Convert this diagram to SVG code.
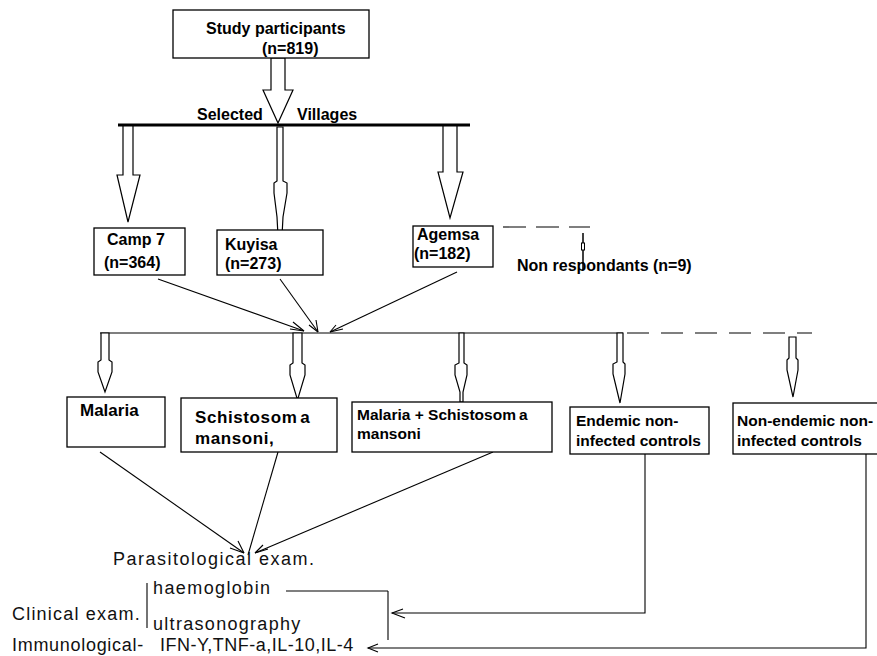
<svg xmlns="http://www.w3.org/2000/svg" width="877" height="656" viewBox="0 0 877 656">
<style>
.box{fill:#fff;stroke:#000;stroke-width:1.3}
.blk{fill:#fff;stroke:#000;stroke-width:1.2;stroke-linejoin:miter}
.ln{fill:none;stroke:#000;stroke-width:1.1}
.b{font-family:"Liberation Sans",Arial,sans-serif;font-weight:bold;font-size:16px;fill:#000}
.r{font-family:"Liberation Sans",Arial,sans-serif;font-size:18px;letter-spacing:1px;fill:#111}
</style>
<rect width="877" height="656" fill="#fff"/>

<g id="connectors">
  <!-- top block arrow -->
  <polygon class="blk" points="271,58 285,58 285,90 293,90 278,123 263,90 271,90"/>
  <!-- villages bar -->
  <line x1="118" y1="125" x2="470" y2="125" stroke="#000" stroke-width="3"/>
  <!-- village arrows -->
  <polygon class="blk" points="123,126 133,126 133,175 140,175 128,222 117,175 123,175"/>
  <polygon class="blk" points="277,127 283,127 283,181 287,183 287,193 283,217 282,236 278,236 277,217 274,193 274,183 277,181"/>
  <polygon class="blk" points="443,126 457,126 457,172 463,172 450,218 438,172 443,172"/>
  <!-- non respondants -->
  <line class="ln" x1="503" y1="227" x2="590" y2="227" stroke-dasharray="23,10"/>
  <line x1="583" y1="233" x2="583" y2="270" stroke="#000" stroke-width="1.5"/>
  <rect x="581.5" y="243" width="3" height="7" fill="#fff" stroke="#000" stroke-width="1"/>
  <!-- villages converge -->
  <line class="ln" x1="158" y1="279" x2="304" y2="331"/>
  <path class="ln" d="M290,329 L304,331 M293,322 L304,331"/>
  <line class="ln" x1="280" y1="279" x2="318" y2="332"/>
  <path class="ln" d="M309,325 L318,332 M316,320 L318,332"/>
  <line class="ln" x1="457" y1="272" x2="330" y2="332"/>
  <path class="ln" d="M343,329 L330,332 M336,325 L330,332"/>
  <!-- level 2 line -->
  <line class="ln" x1="100" y1="333" x2="623" y2="333"/>
  <line class="ln" x1="627" y1="333" x2="812" y2="333" stroke-dasharray="22,12"/>
  <!-- level 2 arrows -->
  <polygon class="blk" points="101,333 109,333 109,360 112,362 112,372 105,392 98,372 98,362 101,360"/>
  <polygon class="blk" points="293,333 302,333 302,363 305,365 305,375 297.5,400 290,375 290,365 293,363"/>
  <polygon class="blk" points="459,333 464,333 464,363 467,365 467,375 463,392 463,402 460,402 460,392 455,375 455,365 459,363"/>
  <polygon class="blk" points="617,333 623,333 623,362 625,364 625,374 620,403 613,374 613,364 617,362"/>
  <polygon class="blk" points="789,337 796,337 796,358 798,360 798,370 793,397 787,370 787,360 789,358"/>
  <!-- level 2 converge to parasitological exam -->
  <line class="ln" x1="100" y1="452" x2="244" y2="553"/>
  <path class="ln" d="M230,548 L244,553 M238,541 L244,553"/>
  <line class="ln" x1="278" y1="452" x2="248" y2="555"/>
  <line class="ln" x1="493" y1="452" x2="255" y2="553"/>
  <path class="ln" d="M268,549 L255,553 M263,545 L255,553"/>
  <!-- clinical bracket lines -->
  <line class="ln" x1="147" y1="583" x2="147" y2="628"/>
  <line class="ln" x1="286" y1="591" x2="388" y2="591"/>
  <line class="ln" x1="388" y1="591" x2="388" y2="640"/>
  <!-- endemic connector -->
  <polyline class="ln" points="645,454 645,613 392,613"/>
  <path class="ln" d="M403,609 L392,613 L405,618"/>
  <!-- non-endemic connector -->
  <polyline class="ln" points="866,454 866,648 368,648"/>
  <path class="ln" d="M378,644 L368,648 L378,652"/>
</g>

<g id="study">
  <rect class="box" x="173" y="10" width="196" height="48"/>
  <text class="b" x="206" y="34">Study participants</text>
  <text class="b" x="262" y="54">(n=819)</text>
</g>
<g id="selected-villages">
  <text class="b" x="197" y="120">Selected</text>
  <text class="b" x="297" y="120">Villages</text>
</g>
<g id="camp7">
  <rect class="box" x="94" y="228" width="91" height="47"/>
  <text class="b" x="107" y="245">Camp 7</text>
  <text class="b" x="104" y="268">(n=364)</text>
</g>
<g id="kuyisa">
  <rect class="box" x="217" y="230" width="106" height="45"/>
  <text class="b" x="225" y="250">Kuyisa</text>
  <text class="b" x="225" y="269">(n=273)</text>
</g>
<g id="agemsa">
  <rect class="box" x="413" y="226" width="80" height="41"/>
  <text class="b" x="417" y="240">Agemsa</text>
  <text class="b" x="414" y="259">(n=182)</text>
</g>
<g id="non-respondants">
  <text class="b" x="517" y="271">Non respondants (n=9)</text>
</g>
<g id="malaria">
  <rect class="box" x="67" y="397" width="98" height="50"/>
  <text class="b" x="80" y="416" style="font-size:17px">Malaria</text>
</g>
<g id="schisto">
  <rect class="box" x="181" y="398" width="156" height="54"/>
  <text class="b" x="195" y="423" style="font-size:17px;letter-spacing:0.6px">Schistosom<tspan dx="3">a</tspan></text>
  <text class="b" x="195" y="444" style="font-size:17px;letter-spacing:0.6px">mansoni,</text>
</g>
<g id="mal-schisto">
  <rect class="box" x="352" y="402" width="200" height="50"/>
  <text class="b" x="357" y="420" style="font-size:15.5px">Malaria + Schistosom<tspan dx="3">a</tspan></text>
  <text class="b" x="357" y="439" style="font-size:15.5px">mansoni</text>
</g>
<g id="endemic">
  <rect class="box" x="570" y="407" width="139" height="47"/>
  <text class="b" x="576" y="426" style="font-size:15.5px">Endemic non-</text>
  <text class="b" x="576" y="446" style="font-size:15.5px">infected controls</text>
</g>
<g id="non-endemic">
  <rect class="box" x="733" y="403" width="160" height="51"/>
  <text class="b" x="737" y="426" style="font-size:15.5px">Non-endemic non-</text>
  <text class="b" x="737" y="446" style="font-size:15.5px">infected controls</text>
</g>
<g id="exams">
  <text class="r" x="113" y="565" style="letter-spacing:1.5px">Parasitological exam.</text>
  <text class="r" x="153" y="594" style="letter-spacing:1.4px">haemoglobin</text>
  <text class="r" x="12" y="620" style="letter-spacing:1.2px">Clinical exam.</text>
  <text class="r" x="153" y="630" style="letter-spacing:1.3px">ultrasonography</text>
  <text class="r" x="12" y="651" style="letter-spacing:0.7px">Immunological-</text>
  <text class="r" x="160" y="651" style="letter-spacing:0.5px">IFN-Y,TNF-a,IL-10,IL-4</text>
</g>
</svg>
